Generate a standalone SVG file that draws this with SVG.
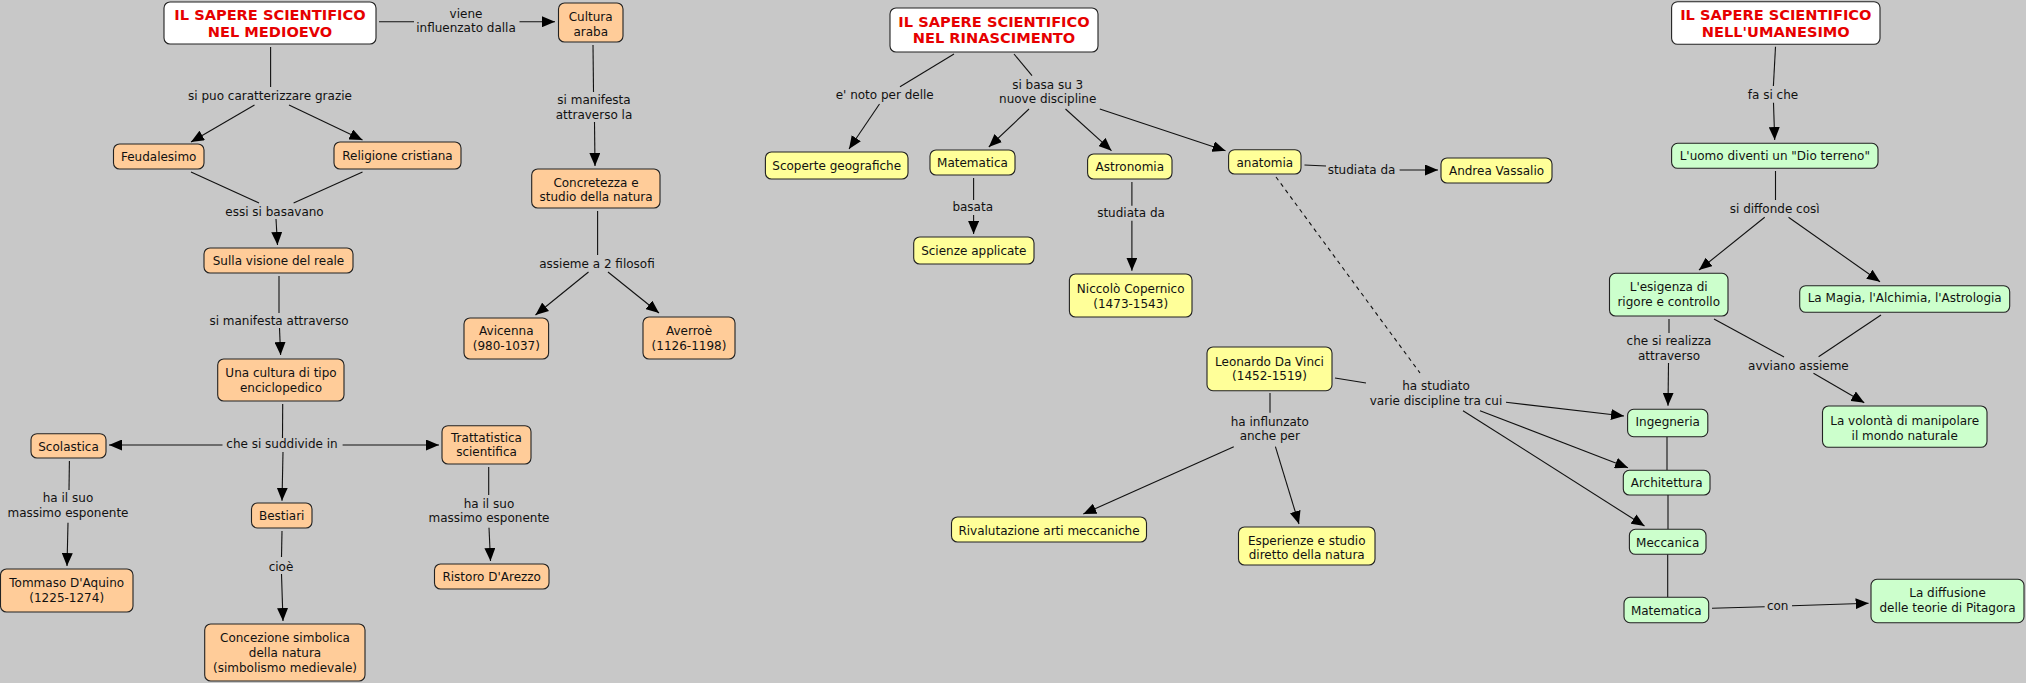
<svg xmlns="http://www.w3.org/2000/svg" width="2026" height="683" viewBox="0 0 2026 683">
<style>
.bg{fill:#c8c8c8}
.n rect{stroke:#222;stroke-width:1.1}
.t rect{fill:#fff}
.o rect{fill:#ffcc99}
.y rect{fill:#ffff99}
.g rect{fill:#ccffcc}
text{font-family:"DejaVu Sans",Verdana,sans-serif;font-size:12px;fill:#111;text-anchor:middle}
.t text{font-weight:bold;font-size:14.6px;fill:#e60000}
#connectors line{stroke:#111;stroke-width:1.1;fill:none}
#connectors line.a{marker-end:url(#ah)}
#connectors line.d{stroke-dasharray:4,4}
</style>
<defs>
<marker id="ah" markerUnits="userSpaceOnUse" markerWidth="13" markerHeight="11" refX="13" refY="5.5" orient="auto">
<path d="M0,0 L13,5.5 L0,11 z" fill="#000"/>
</marker>
</defs>
<rect class="bg" x="0" y="0" width="2026" height="683"/>

<g id="connectors">
<!-- Medioevo -->
<line x1="379" y1="21.7" x2="414" y2="21.7"/>
<line class="a" x1="519.5" y1="21.7" x2="555" y2="21.7"/>
<text x="466" y="17.5">viene</text>
<text x="466" y="31.5">influenzato dalla</text>

<line x1="270.6" y1="47" x2="270.6" y2="87"/>
<text x="270" y="99.5">si puo caratterizzare grazie</text>
<line class="a" x1="254.5" y1="105" x2="191" y2="142"/>
<line class="a" x1="289" y1="105" x2="362.5" y2="140"/>

<line x1="191" y1="172" x2="259" y2="203"/>
<line x1="362.5" y1="172" x2="293.6" y2="203"/>
<text x="274.5" y="215.5">essi si basavano</text>
<line class="a" x1="276" y1="219" x2="277.5" y2="245"/>

<line x1="279" y1="276" x2="279" y2="313"/>
<text x="279" y="324.5">si manifesta attraverso</text>
<line class="a" x1="279.5" y1="328" x2="280.6" y2="355"/>

<line x1="593" y1="45" x2="593.5" y2="92"/>
<text x="594" y="103.5">si manifesta</text>
<text x="594" y="118.5">attraverso la</text>
<line class="a" x1="594.5" y1="122" x2="595" y2="166"/>

<line x1="597.6" y1="211" x2="597.6" y2="255"/>
<text x="597" y="267.5">assieme a 2 filosofi</text>
<line class="a" x1="588.5" y1="272" x2="535.5" y2="315"/>
<line class="a" x1="608" y1="272" x2="659" y2="313"/>

<line x1="282.7" y1="404" x2="282.5" y2="438"/>
<text x="282" y="447.7">che si suddivide in</text>
<line class="a" x1="222.5" y1="445" x2="109" y2="445"/>
<line class="a" x1="342.6" y1="445" x2="439" y2="445"/>
<line class="a" x1="283" y1="452" x2="282" y2="500.7"/>

<line x1="69.4" y1="461" x2="69" y2="490"/>
<text x="68" y="502">ha il suo</text>
<text x="68" y="517">massimo esponente</text>
<line class="a" x1="68" y1="522.7" x2="67" y2="566"/>

<line x1="282" y1="531" x2="281.5" y2="557"/>
<text x="281" y="570.5">cioè</text>
<line class="a" x1="281.5" y1="574" x2="283" y2="621"/>

<line x1="488.7" y1="467" x2="488.7" y2="495"/>
<text x="489" y="507.5">ha il suo</text>
<text x="489" y="522">massimo esponente</text>
<line class="a" x1="489" y1="527.7" x2="490.5" y2="561"/>

<!-- Rinascimento -->
<line x1="954" y1="54" x2="900" y2="86.7"/>
<text x="884.7" y="98.5">e' noto per delle</text>
<line class="a" x1="879.5" y1="104" x2="849" y2="149"/>

<line x1="1014" y1="54" x2="1032" y2="75.7"/>
<text x="1047.7" y="88.5">si basa su 3</text>
<text x="1047.7" y="103">nuove discipline</text>
<line class="a" x1="1029" y1="109" x2="988.8" y2="147"/>
<line class="a" x1="1065.5" y1="109" x2="1111.5" y2="150.7"/>
<line class="a" x1="1099.8" y1="109" x2="1225.5" y2="150.7"/>

<line x1="973.6" y1="178" x2="973.6" y2="200"/>
<text x="972.7" y="211">basata</text>
<line class="a" x1="973.6" y1="215" x2="973.6" y2="234"/>

<line x1="1131.9" y1="182" x2="1131.9" y2="205.7"/>
<text x="1131" y="217">studiata da</text>
<line class="a" x1="1131.9" y1="220.7" x2="1131.9" y2="270.7"/>

<line x1="1304.5" y1="165" x2="1326" y2="166"/>
<text x="1361.5" y="173.5">studiata da</text>
<line class="a" x1="1399.6" y1="170" x2="1438" y2="170"/>

<line class="d" x1="1276" y1="177" x2="1420" y2="373"/>

<line x1="1335" y1="378" x2="1366" y2="383"/>
<text x="1436" y="389.5">ha studiato</text>
<text x="1436" y="404.5">varie discipline tra cui</text>
<line class="a" x1="1506" y1="402.3" x2="1624" y2="416"/>
<line class="a" x1="1480" y1="410.7" x2="1628" y2="467.7"/>
<line class="a" x1="1463" y1="410.7" x2="1644.5" y2="526"/>

<line x1="1270" y1="393" x2="1270" y2="412.7"/>
<text x="1269.8" y="425.5">ha influnzato</text>
<text x="1269.8" y="440">anche per</text>
<line class="a" x1="1233.8" y1="446.7" x2="1083.3" y2="514"/>
<line class="a" x1="1275.4" y1="446.7" x2="1299" y2="524"/>

<!-- Umanesimo -->
<line x1="1775.5" y1="46.7" x2="1773.4" y2="86"/>
<text x="1773" y="98.5">fa si che</text>
<line class="a" x1="1773.5" y1="102.7" x2="1774.7" y2="140"/>

<line x1="1775.5" y1="171" x2="1775.5" y2="200"/>
<text x="1774.7" y="212.7">si diffonde così</text>
<line class="a" x1="1764.7" y1="217.3" x2="1699" y2="270"/>
<line class="a" x1="1788.5" y1="217.3" x2="1880" y2="281.7"/>

<line x1="1669" y1="319" x2="1669" y2="333"/>
<text x="1669" y="345">che si realizza</text>
<text x="1669" y="360">attraverso</text>
<line class="a" x1="1668.5" y1="363" x2="1668" y2="405.7"/>

<line x1="1714" y1="319" x2="1784" y2="357"/>
<line x1="1881" y1="315" x2="1818.6" y2="356.7"/>
<text x="1798.4" y="370">avviano assieme</text>
<line class="a" x1="1813.5" y1="373.3" x2="1864.3" y2="402.7"/>

<line x1="1667" y1="436.7" x2="1667" y2="470.3"/>
<line x1="1668" y1="495" x2="1668" y2="529.3"/>
<line x1="1667.7" y1="554.3" x2="1667.7" y2="597.3"/>

<line x1="1712" y1="608.3" x2="1764.7" y2="606.7"/>
<text x="1777.7" y="610">con</text>
<line class="a" x1="1792" y1="605.7" x2="1868.6" y2="603.3"/>
</g>

<!-- Medioevo nodes -->
<g id="n-medioevo" class="n t"><rect x="164" y="2" width="212" height="42" rx="6"/><text x="270" y="20.3">IL SAPERE SCIENTIFICO</text><text x="270" y="37">NEL MEDIOEVO</text></g>
<g id="n-cultura-araba" class="n o"><rect x="558.5" y="3" width="64.5" height="39" rx="6"/><text x="590.7" y="20.5">Cultura</text><text x="590.7" y="35.5">araba</text></g>
<g id="n-feudalesimo" class="n o"><rect x="113.5" y="144" width="90.5" height="25" rx="6"/><text x="158.7" y="161.3">Feudalesimo</text></g>
<g id="n-religione" class="n o"><rect x="334" y="142" width="127" height="27" rx="6"/><text x="397.5" y="160">Religione cristiana</text></g>
<g id="n-sulla-visione" class="n o"><rect x="204" y="248" width="149" height="25" rx="6"/><text x="278.5" y="265">Sulla visione del reale</text></g>
<g id="n-concretezza" class="n o"><rect x="531.7" y="169" width="128.3" height="39" rx="6"/><text x="596" y="186.5">Concretezza e</text><text x="596" y="200.5">studio della natura</text></g>
<g id="n-avicenna" class="n o"><rect x="464" y="318" width="84.6" height="41" rx="6"/><text x="506.3" y="334.5">Avicenna</text><text x="506.3" y="349.5">(980-1037)</text></g>
<g id="n-averroe" class="n o"><rect x="643" y="317" width="92" height="42" rx="6"/><text x="689" y="334.5">Averroè</text><text x="689" y="349.5">(1126-1198)</text></g>
<g id="n-una-cultura" class="n o"><rect x="217.7" y="359" width="126.3" height="42" rx="6"/><text x="281" y="376.5">Una cultura di tipo</text><text x="281" y="391.5">enciclopedico</text></g>
<g id="n-scolastica" class="n o"><rect x="31" y="433.7" width="75" height="24.3" rx="6"/><text x="68.5" y="450.5">Scolastica</text></g>
<g id="n-trattatistica" class="n o"><rect x="442" y="425.7" width="89" height="38.3" rx="6"/><text x="486.5" y="442">Trattatistica</text><text x="486.5" y="456.3">scientifica</text></g>
<g id="n-bestiari" class="n o"><rect x="251.5" y="503" width="60.5" height="25" rx="6"/><text x="281.7" y="520.3">Bestiari</text></g>
<g id="n-tommaso" class="n o"><rect x="0.5" y="569" width="132.5" height="43" rx="6"/><text x="66.7" y="587">Tommaso D'Aquino</text><text x="66.7" y="601.7">(1225-1274)</text></g>
<g id="n-concezione" class="n o"><rect x="204.7" y="624" width="160.3" height="57" rx="6"/><text x="285" y="642">Concezione simbolica</text><text x="285" y="656.7">della natura</text><text x="285" y="671.5">(simbolismo medievale)</text></g>
<g id="n-ristoro" class="n o"><rect x="434.5" y="564" width="114.5" height="25" rx="6"/><text x="491.7" y="581.3">Ristoro D'Arezzo</text></g>

<!-- Rinascimento nodes -->
<g id="n-rinascimento" class="n t"><rect x="890" y="8" width="208" height="44" rx="6"/><text x="994" y="26.7">IL SAPERE SCIENTIFICO</text><text x="994" y="43.3">NEL RINASCIMENTO</text></g>
<g id="n-scoperte" class="n y"><rect x="765.4" y="152" width="142.6" height="27" rx="6"/><text x="836.7" y="169.5">Scoperte geografiche</text></g>
<g id="n-matematica-r" class="n y"><rect x="930" y="150" width="85" height="25" rx="6"/><text x="972.5" y="167.3">Matematica</text></g>
<g id="n-astronomia" class="n y"><rect x="1087.6" y="154" width="84.4" height="25" rx="6"/><text x="1129.8" y="171.3">Astronomia</text></g>
<g id="n-anatomia" class="n y"><rect x="1228.6" y="149.7" width="72.4" height="24.3" rx="6"/><text x="1264.8" y="167">anatomia</text></g>
<g id="n-scienze" class="n y"><rect x="913.7" y="237" width="120.3" height="27" rx="6"/><text x="973.8" y="254.5">Scienze applicate</text></g>
<g id="n-copernico" class="n y"><rect x="1069.4" y="274" width="122.6" height="43" rx="6"/><text x="1130.7" y="293">Niccolò Copernico</text><text x="1130.7" y="307.7">(1473-1543)</text></g>
<g id="n-vassalio" class="n y"><rect x="1441" y="158" width="111" height="25" rx="6"/><text x="1496.5" y="175">Andrea Vassalio</text></g>
<g id="n-leonardo" class="n y"><rect x="1207" y="347" width="125" height="43.7" rx="6"/><text x="1269.5" y="365.5">Leonardo Da Vinci</text><text x="1269.5" y="379.8">(1452-1519)</text></g>
<g id="n-rivalutazione" class="n y"><rect x="951.5" y="517" width="195" height="25" rx="6"/><text x="1049" y="534.5">Rivalutazione arti meccaniche</text></g>
<g id="n-esperienze" class="n y"><rect x="1238.5" y="527" width="136.5" height="38" rx="6"/><text x="1306.7" y="544.5">Esperienze e studio</text><text x="1306.7" y="558.8">diretto della natura</text></g>

<!-- Umanesimo nodes -->
<g id="n-umanesimo" class="n t"><rect x="1671.6" y="1.7" width="208.4" height="42.6" rx="6"/><text x="1775.8" y="20">IL SAPERE SCIENTIFICO</text><text x="1775.8" y="36.7">NELL'UMANESIMO</text></g>
<g id="n-uomo" class="n g"><rect x="1671.6" y="143.3" width="206.4" height="25" rx="6"/><text x="1774.8" y="160.3">L'uomo diventi un "Dio terreno"</text></g>
<g id="n-esigenza" class="n g"><rect x="1609.5" y="273.3" width="118.5" height="42.7" rx="6"/><text x="1668.7" y="291">L'esigenza di</text><text x="1668.7" y="306">rigore e controllo</text></g>
<g id="n-magia" class="n g"><rect x="1799.7" y="285.7" width="210" height="26.6" rx="6"/><text x="1904.7" y="302">La Magia, l'Alchimia, l'Astrologia</text></g>
<g id="n-volonta" class="n g"><rect x="1822.5" y="406" width="164.5" height="41.3" rx="6"/><text x="1904.7" y="425">La volontà di manipolare</text><text x="1904.7" y="439.7">il mondo naturale</text></g>
<g id="n-ingegneria" class="n g"><rect x="1627.6" y="409.3" width="80.2" height="27.4" rx="6"/><text x="1667.7" y="426.3">Ingegneria</text></g>
<g id="n-architettura" class="n g"><rect x="1623.3" y="470.3" width="86.7" height="24.7" rx="6"/><text x="1666.6" y="487.3">Architettura</text></g>
<g id="n-meccanica" class="n g"><rect x="1629.4" y="529.3" width="76.6" height="25" rx="6"/><text x="1667.7" y="546.6">Meccanica</text></g>
<g id="n-matematica-u" class="n g"><rect x="1624" y="597.3" width="84.7" height="25.4" rx="6"/><text x="1666.3" y="615">Matematica</text></g>
<g id="n-pitagora" class="n g"><rect x="1871" y="579.3" width="153" height="43.4" rx="6"/><text x="1947.5" y="597">La diffusione</text><text x="1947.5" y="611.7">delle teorie di Pitagora</text></g>
</svg>
